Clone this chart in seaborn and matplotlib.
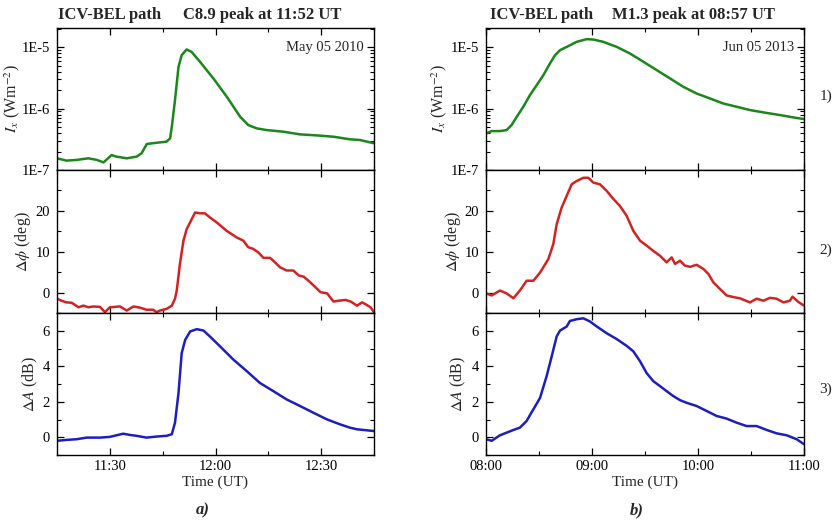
import numpy as np
import pandas as pd
import matplotlib
matplotlib.use("Agg")
import matplotlib.pyplot as plt
from matplotlib.ticker import FixedLocator, FuncFormatter, LogLocator, NullFormatter
import seaborn as sns

# ---------------- data ----------------
# Event a) May 05 2010, times in minutes after 11:15 UT
start_a = 11 * 60 + 15
ta_ix = [0, 2.7, 5.6, 8.9, 11.3, 13.2, 15.5, 16.9, 19.8, 22.6, 24.0, 25.5, 28.3, 31.1, 32.1, 32.6,
         33.5, 34.5, 35.4, 36.8, 38.2, 40.6, 44.4, 48.2, 52.0, 54.3, 56.7, 59.5, 64.3, 69.0, 73.7,
         78.5, 83.2, 86.0, 90.0]
ix_a = [1.55e-7, 1.42e-7, 1.46e-7, 1.55e-7, 1.46e-7, 1.33e-7, 1.75e-7, 1.65e-7, 1.55e-7, 1.65e-7,
        1.87e-7, 2.65e-7, 2.78e-7, 2.89e-7, 3.27e-7, 5.07e-7, 1.37e-6, 4.79e-6, 7.41e-6, 9.16e-6,
        8.39e-6, 5.78e-6, 3.09e-6, 1.56e-6, 7.36e-7, 5.39e-7, 4.76e-7, 4.47e-7, 4.20e-7, 3.80e-7,
        3.66e-7, 3.48e-7, 3.16e-7, 3.08e-7, 2.72e-7]

ta_ph = [0, 1.3, 2.7, 4.2, 6.1, 7.5, 8.9, 10.3, 12.2, 13.6, 15.0, 17.9, 19.8, 21.7, 23.6, 25.4,
         27.3, 28.3, 29.2, 31.1, 32.6, 33.5, 34.0, 34.9, 35.9, 36.8, 37.8, 39.2, 40.6, 42.0, 43.4,
         45.3, 48.2, 51.0, 52.9, 54.3, 55.7, 57.2, 58.6, 60.5, 61.9, 63.3, 65.2, 67.1, 68.6, 70.0,
         71.4, 72.9, 74.8, 76.7, 78.5, 79.9, 81.9, 83.4, 85.2, 86.6, 87.5, 89.0, 89.5, 90.0]
ph_a = [-1.5, -2.0, -2.4, -2.5, -3.6, -3.2, -3.6, -3.4, -3.5, -4.8, -3.6, -3.4, -4.4, -3.4, -3.7,
        -4.2, -4.2, -4.8, -4.4, -4.0, -3.2, -1.5, 0.5, 7.0, 12.7, 15.5, 17.2, 19.6, 19.4, 19.4,
        18.4, 17.2, 15.1, 13.5, 12.7, 11.1, 10.7, 9.8, 8.5, 8.5, 7.4, 6.2, 5.4, 5.4, 4.2, 3.9,
        2.9, 1.7, 0.1, -0.2, -2.2, -2.0, -1.8, -2.2, -3.2, -2.4, -2.8, -3.6, -4.2, -4.8]

ta_da = [0, 2.7, 5.6, 8.4, 12.2, 15.0, 16.9, 18.8, 20.7, 22.6, 25.4, 28.3, 31.1, 32.6, 33.5, 34.5,
         35.4, 36.4, 37.8, 39.7, 41.6, 43.4, 46.3, 50.1, 53.9, 57.6, 61.4, 65.2, 69.0, 72.8, 76.6,
         80.3, 83.2, 85.1, 87.0, 90.0]
da_a = [-0.20, -0.15, -0.11, -0.02, -0.02, 0.02, 0.11, 0.20, 0.13, 0.08, -0.02, 0.04, 0.08, 0.17,
        0.82, 2.50, 4.74, 5.49, 5.96, 6.09, 6.01, 5.68, 5.12, 4.37, 3.72, 3.06, 2.60, 2.13, 1.76,
        1.38, 1.01, 0.73, 0.54, 0.45, 0.41, 0.35]

# Event b) Jun 05 2013, times in minutes after 08:00 UT
start_b = 8 * 60
tb_ix = [0, 3.2, 7.9, 11.7, 14.5, 17.4, 21.1, 24.9, 28.7, 32.5, 36.2, 39.1, 41.9, 45.7, 51.3, 57.0,
         60.8, 66.4, 74.0, 81.5, 89.1, 96.6, 104.2, 111.7, 119.2, 126.8, 134.3, 141.9, 149.4, 157.0,
         166.4, 174.0, 180.0]
ix_b = [3.94e-7, 4.30e-7, 4.30e-7, 4.47e-7, 5.39e-7, 7.36e-7, 1.07e-6, 1.66e-6, 2.41e-6, 3.51e-6,
        5.42e-6, 7.41e-6, 8.93e-6, 1.01e-5, 1.22e-5, 1.35e-5, 1.33e-5, 1.22e-5, 1.01e-5, 7.88e-6,
        5.78e-6, 4.23e-6, 3.09e-6, 2.26e-6, 1.76e-6, 1.46e-6, 1.21e-6, 1.07e-6, 9.46e-7, 8.67e-7,
        7.84e-7, 7.18e-7, 6.74e-7]

tb_ph = [0, 3.2, 7.9, 11.7, 15.5, 19.2, 23.0, 26.8, 30.6, 35.3, 38.1, 40.0, 42.8, 45.7, 48.5, 51.3,
         55.1, 57.9, 60.8, 64.5, 68.3, 72.1, 75.8, 79.6, 83.4, 87.2, 90.9, 94.7, 98.5, 102.2, 105.1,
         107.0, 109.8, 112.6, 115.5, 119.2, 123.0, 125.8, 128.7, 132.4, 136.2, 140.0, 143.7, 149.4,
         153.2, 157.0, 160.7, 164.5, 168.3, 172.0, 173.5, 176.8, 180.0]
ph_b = [-0.2, -0.7, 0.5, -0.2, -1.4, 0.5, 2.9, 2.9, 4.9, 8.2, 11.9, 16.7, 20.8, 23.7, 26.5, 27.3,
        28.1, 28.1, 26.9, 26.5, 24.9, 22.9, 21.2, 18.8, 15.1, 12.7, 11.5, 10.2, 9.0, 7.4, 8.6,
        7.0, 7.8, 6.6, 6.3, 6.8, 5.8, 4.6, 2.5, 0.9, -0.7, -1.1, -1.4, -2.4, -1.5, -2.0, -1.3,
        -1.5, -2.4, -2.0, -1.0, -2.3, -3.2]

tb_da = [0, 3.2, 7.9, 11.7, 15.5, 19.2, 23.0, 26.8, 30.6, 34.3, 37.2, 40.0, 41.9, 45.7, 47.5, 51.3,
         55.1, 58.9, 62.7, 68.3, 74.0, 79.6, 83.4, 87.2, 90.9, 94.7, 98.5, 102.2, 106.0, 109.8, 113.6,
         119.2, 124.9, 130.5, 136.2, 141.9, 147.5, 153.2, 158.9, 164.5, 170.2, 175.8, 180.0]
da_b = [-0.11, -0.20, 0.11, 0.26, 0.41, 0.54, 0.92, 1.57, 2.22, 3.44, 4.56, 5.68, 6.01, 6.24, 6.55,
        6.65, 6.70, 6.52, 6.24, 5.86, 5.53, 5.15, 4.84, 4.28, 3.62, 3.16, 2.88, 2.60, 2.32, 2.09,
        1.94, 1.76, 1.48, 1.20, 1.05, 0.82, 0.63, 0.63, 0.41, 0.22, 0.11, -0.11, -0.39]

ticks_a = [690, 720, 750]
ticklabels_a = ["11:30", "12:00", "12:30"]
ticks_b = [480, 540, 600, 660]
ticklabels_b = ["08:00", "09:00", "10:00", "11:00"]

titles_left = ["ICV-BEL path", "ICV-BEL path"]
titles_right = ["C8.9 peak at 11:52 UT", "M1.3 peak at 08:57 UT"]
dates = ["May 05 2010", "Jun 05 2013"]
panel_tags = ["a)", "b)"]
row_tags = ["1)", "2)", "3)"]

# ---------------- style ----------------
sns.set_theme(style="ticks")
plt.rcParams["font.family"] = ["Liberation Serif", "DejaVu Serif"]
plt.rcParams["mathtext.fontset"] = "stix"

green = "#1b861b"
red = "#d42222"
blue = "#1c1fbe"

W, H = 837, 522
fig = plt.figure(figsize=(W / 100, H / 100), dpi=100)

def fx(px):
    return px / W

def fy(py):
    return 1 - py / H

cols = [(57, 374), (486, 804)]
rows = [(28, 170), (170, 313), (313, 455)]
label_x = [[-0.142, -0.107, -0.085], [-0.147, -0.104, -0.088]]

def style_axis(ax):
    ax.tick_params(which="both", direction="in", top=True, right=True, colors="black",
                   labelsize=10.5)
    ax.tick_params(axis="y", which="major", pad=5)
    ax.tick_params(which="major", length=5, width=0.9)
    ax.tick_params(which="minor", length=3, width=0.8)
    for s in ax.spines.values():
        s.set_color("black")
        s.set_linewidth(1.0)

datasets = [
    (start_a, [(ta_ix, ix_a), (ta_ph, ph_a), (ta_da, da_a)], (675, 765), ticks_a, ticklabels_a, 15),
    (start_b, [(tb_ix, ix_b), (tb_ph, ph_b), (tb_da, da_b)], (480, 660), ticks_b, ticklabels_b, 30),
]
colors = [green, red, blue]
ylabels = [r"$I_x$ (Wm$^{-2}$)", r"$\mathit{\Delta\phi}$ (deg)", r"$\mathit{\Delta A}$ (dB)"]

for c, ((x0, x1), (start, series, xlim, ticks, tlabels, minor_step)) in enumerate(zip(cols, datasets)):
    for r, ((y0, y1), (tt, vv)) in enumerate(zip(rows, series)):
        ax = fig.add_axes([fx(x0), fy(y1), fx(x1 - x0), (y1 - y0) / H])
        df = pd.DataFrame({"t": np.asarray(tt) + start, "v": vv})
        sns.lineplot(data=df, x="t", y="v", ax=ax, color=colors[r], linewidth=1.8)
        ax.set_xlim(*xlim)
        ax.xaxis.set_major_locator(FixedLocator(ticks))
        ax.xaxis.set_minor_locator(FixedLocator(np.arange(xlim[0], xlim[1] + 1, minor_step)))
        if r == 0:
            ax.set_yscale("log")
            ax.set_ylim(1e-7, 2.05e-5)
            ax.yaxis.set_major_locator(FixedLocator([1e-7, 1e-6, 1e-5]))
            ax.yaxis.set_major_formatter(FuncFormatter(lambda v, p: "1E%d" % round(np.log10(v))))
            ax.yaxis.set_minor_locator(LogLocator(base=10, subs=np.arange(2, 10)))
            ax.yaxis.set_minor_formatter(NullFormatter())
            ax.text(0.968, 0.866, dates[c], transform=ax.transAxes, ha="right", va="center",
                    fontsize=10.5)
        elif r == 1:
            ax.set_ylim(-5, 30)
            ax.yaxis.set_major_locator(FixedLocator([0, 10, 20]))
            ax.yaxis.set_minor_locator(FixedLocator([-5, 5, 15, 25]))
        else:
            ax.set_ylim(-1, 7)
            ax.yaxis.set_major_locator(FixedLocator([0, 2, 4, 6]))
            ax.yaxis.set_minor_locator(FixedLocator([-1, 1, 3, 5, 7]))
        ax.set_ylabel(ylabels[r], fontsize=11.5, va="center")
        ax.yaxis.set_label_coords(label_x[c][r], 0.5)
        if r < 2:
            ax.set_xlabel("")
            ax.tick_params(labelbottom=False)
        else:
            ax.set_xticklabels(tlabels)
            ax.set_xlabel("Time (UT)", fontsize=11, labelpad=2)
        style_axis(ax)

# titles
fig.text(fx(58), fy(15), titles_left[0], fontsize=12, fontweight="bold", va="center", ha="left")
fig.text(fx(183), fy(15), titles_right[0], fontsize=12, fontweight="bold", va="center", ha="left")
fig.text(fx(490), fy(15), titles_left[1], fontsize=12, fontweight="bold", va="center", ha="left")
fig.text(fx(612), fy(15), titles_right[1], fontsize=12, fontweight="bold", va="center", ha="left")

# panel tags
fig.text(fx(203), fy(510), panel_tags[0], fontsize=12, fontweight="bold", style="italic",
         ha="center", va="center")
fig.text(fx(637), fy(510), panel_tags[1], fontsize=12, fontweight="bold", style="italic",
         ha="center", va="center")

# row tags
for tag, py in zip(row_tags, [96, 250, 389]):
    fig.text(fx(826), fy(py), tag, fontsize=11, ha="center", va="center")

fig.savefig("out.png", dpi=100)
